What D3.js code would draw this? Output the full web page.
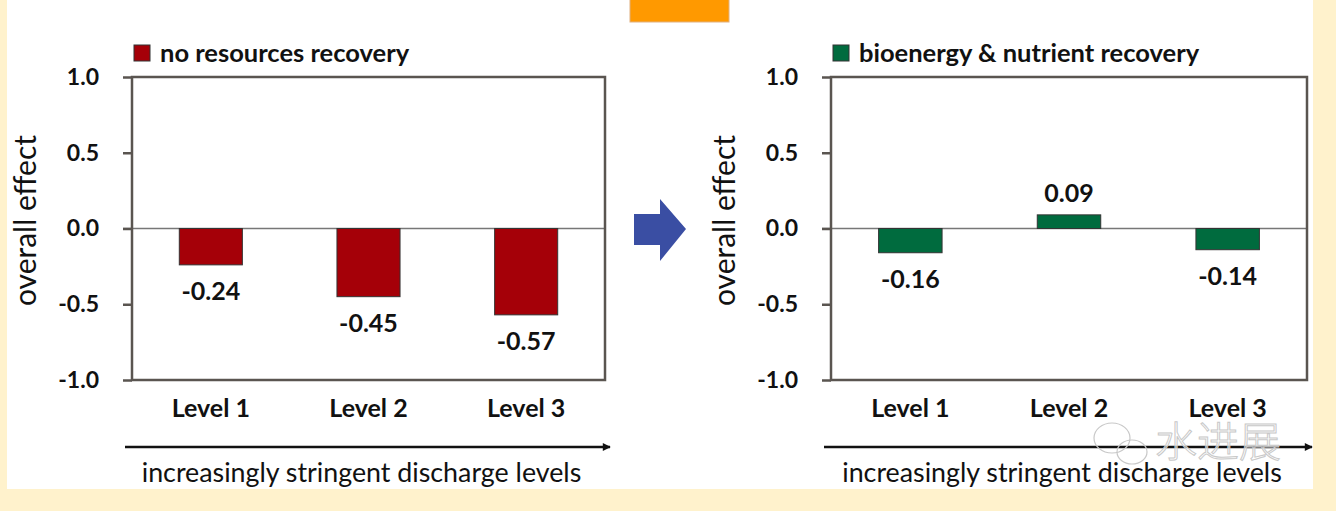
<!DOCTYPE html>
<html>
<head>
<meta charset="utf-8">
<script src="https://cdn.jsdelivr.net/npm/d3@7"></script>
<style>
  body { margin: 0; background: #fff2cc; }
  svg { display: block; }
</style>
</head>
<body>
<script>
// chart data
const levels = ["Level 1", "Level 2", "Level 3"];
const noRecovery = [-0.24, -0.45, -0.57];
const withRecovery = [-0.16, 0.09, -0.14];
const yTicks = [1.0, 0.5, 0.0, -0.5, -1.0];

const W = 1336, H = 511;
const font = "Lato, 'Open Sans', sans-serif";

const svg = d3.select("body").append("svg")
  .attr("width", W)
  .attr("height", H);

// page background: cream with white panel
svg.append("rect").attr("width", W).attr("height", H).attr("fill", "#fff2cc");
svg.append("rect").attr("x", 7).attr("y", 0).attr("width", 1306).attr("height", 489).attr("fill", "#fff");

// orange box at top
svg.append("rect")
  .attr("x", 630).attr("y", -2).attr("width", 99).attr("height", 24)
  .attr("fill", "#ff9900").attr("stroke", "#e0b080").attr("stroke-width", 1);

// blue block arrow in the middle
svg.append("path")
  .attr("d", "M634,214 L660,214 L660,199 L686,229 L660,261 L660,245 L634,245 Z")
  .attr("fill", "#3a4ea3");

const defs = svg.append("defs");
defs.append("marker")
  .attr("id", "head")
  .attr("viewBox", "0 0 10 10")
  .attr("refX", 9).attr("refY", 5)
  .attr("markerWidth", 10).attr("markerHeight", 8)
  .attr("markerUnits", "userSpaceOnUse")
  .attr("orient", "auto")
  .append("path").attr("d", "M0,0 L10,5 L0,10 Z").attr("fill", "#111");

function panel(opts) {
  const g = svg.append("g");
  const x = d3.scaleBand().domain(levels).range([opts.left, opts.right]).paddingInner(0.6).paddingOuter(0.3);
  const y = d3.scaleLinear().domain([-1, 1]).range([380, 77]);

  // legend
  g.append("rect")
    .attr("x", opts.left + 2).attr("y", 45).attr("width", 16).attr("height", 16)
    .attr("fill", opts.color).attr("stroke", "#333").attr("stroke-width", 1);
  g.append("text")
    .attr("x", opts.left + 28).attr("y", 62)
    .attr("font-family", font).attr("font-weight", "bold").attr("font-size", 25.5)
    .attr("fill", "#111")
    .text(opts.legend);

  // zero line
  g.append("line")
    .attr("x1", opts.left - 9).attr("x2", opts.right)
    .attr("y1", y(0)).attr("y2", y(0))
    .attr("stroke", "#777").attr("stroke-width", 1.5);

  // bars
  g.selectAll("rect.bar").data(opts.values).join("rect")
    .attr("class", "bar")
    .attr("x", (d, i) => x(levels[i]))
    .attr("width", x.bandwidth())
    .attr("y", d => y(Math.max(0, d)))
    .attr("height", d => Math.abs(y(d) - y(0)))
    .attr("fill", opts.color)
    .attr("stroke", "#333").attr("stroke-width", 1);

  // value labels
  g.selectAll("text.val").data(opts.values).join("text")
    .attr("class", "val")
    .attr("x", (d, i) => x(levels[i]) + x.bandwidth() / 2)
    .attr("y", d => d < 0 ? y(d) + 35 : y(d) - 13)
    .attr("text-anchor", "middle")
    .attr("font-family", font).attr("font-weight", "bold").attr("font-size", 25)
    .attr("fill", "#111")
    .text(d => d.toFixed(2));

  // frame
  g.append("rect")
    .attr("x", opts.left).attr("y", y(1))
    .attr("width", opts.right - opts.left).attr("height", y(-1) - y(1))
    .attr("fill", "none").attr("stroke", "#5a5550").attr("stroke-width", 2.5);

  // y axis
  const yAxis = d3.axisLeft(y).tickValues(yTicks).tickSize(9).tickPadding(24)
    .tickFormat(d3.format(".1f"));
  const ya = g.append("g").attr("transform", `translate(${opts.left},0)`).call(yAxis);
  ya.select(".domain").remove();
  ya.selectAll(".tick line").attr("stroke", "#5a5550").attr("stroke-width", 2.5);
  ya.selectAll(".tick text")
    .attr("font-family", font).attr("font-weight", "bold").attr("font-size", 23)
    .attr("fill", "#111")
    .text(d => d3.format(".1f")(d).replace("−", "-"));

  // x axis labels
  const xAxis = d3.axisBottom(x).tickSize(0).tickPadding(19);
  const xa = g.append("g").attr("transform", `translate(0,${y(-1)})`).call(xAxis);
  xa.select(".domain").remove();
  xa.selectAll(".tick text")
    .attr("font-family", font).attr("font-weight", "bold").attr("font-size", 25)
    .attr("fill", "#111");

  // y title
  g.append("text")
    .attr("transform", `translate(${opts.left - 96},${y(0) - 8}) rotate(-90)`)
    .attr("text-anchor", "middle")
    .attr("font-family", font).attr("font-size", 30)
    .attr("fill", "#111")
    .text("overall effect");

  // bottom arrow and caption
  g.append("line")
    .attr("x1", opts.left - 7).attr("x2", opts.right + 5)
    .attr("y1", 447).attr("y2", 447)
    .attr("stroke", "#111").attr("stroke-width", 2.5)
    .attr("marker-end", "url(#head)");
  g.append("text")
    .attr("x", (opts.left + opts.right) / 2 - 7).attr("y", 482)
    .attr("text-anchor", "middle")
    .attr("font-family", font).attr("font-size", 26.8)
    .attr("fill", "#111")
    .text("increasingly stringent discharge levels");
}

panel({ left: 132, right: 605, values: noRecovery, color: "#a50008", legend: "no resources recovery" });
panel({ left: 831, right: 1307, values: withRecovery, color: "#006b3e", legend: "bioenergy & nutrient recovery" });

// watermark
const wm = svg.append("g").attr("fill", "none").attr("stroke", "#c8c8c8").attr("stroke-width", 1.2);
wm.append("ellipse").attr("cx", 1112).attr("cy", 438).attr("rx", 18).attr("ry", 15);
wm.append("ellipse").attr("cx", 1132).attr("cy", 452).attr("rx", 15).attr("ry", 12);
svg.append("text")
  .attr("x", 1155).attr("y", 457)
  .attr("font-family", "'Noto Sans CJK SC', sans-serif").attr("font-size", 42).attr("font-weight", 300)
  .attr("fill", "rgba(255,255,255,0.6)").attr("stroke", "#c8c8c8").attr("stroke-width", 1)
  .text("水进展");
</script>
</body>
</html>
